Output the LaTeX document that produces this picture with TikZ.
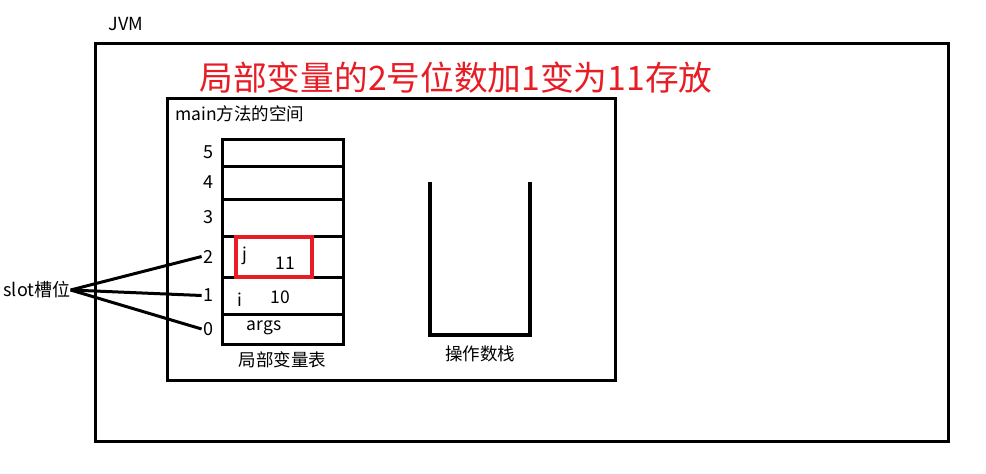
\documentclass[tikz,border=0pt]{standalone}
\usepackage{fontspec}
\setmainfont{Noto Sans CJK SC}
\usetikzlibrary{positioning}
\definecolor{markred}{RGB}{232,28,36}

\begin{document}
\begin{tikzpicture}[
  x=1pt, y=-1pt,
  txt/.style={inner sep=0pt, font=\fontsize{17.5}{19}\selectfont},
  num/.style={inner sep=2pt, font=\fontsize{18}{19}\selectfont},
  frame/.style={draw, line width=3pt, inner sep=0pt, outer sep=0pt},
  cell/.style={frame, minimum width=121pt},
  link/.style={line width=3pt}
]
  \useasboundingbox (0,0) rectangle (986,474);

  \node[frame, minimum width=853pt, minimum height=398pt] (jvm) at (521.5,242) {};
  \node[txt, font=\fontsize{18}{19}\selectfont] (jvmlabel) at (126,24) {JVM};
  \node[inner sep=0pt, text=markred, font=\fontsize{33.7}{36}\selectfont] (title) at (456,78) {局部变量的2号位数加1变为11存放};

  \node[frame, minimum width=448pt, minimum height=282pt] (main) at (391,239) {};
  \node[txt, anchor=west] (mainlabel) at (175,114) {main方法的空间};

  % local variable table, slot 0 at the bottom
  \node[cell, minimum height=30pt] (r0) at (282.5,329) {};
  \node[cell, minimum height=37pt, above=0pt of r0] (r1) {};
  \node[cell, minimum height=41pt, above=0pt of r1] (r2) {};
  \node[cell, minimum height=37pt, above=0pt of r2] (r3) {};
  \node[cell, minimum height=33pt, above=0pt of r3] (r4) {};
  \node[cell, minimum height=27pt, above=0pt of r4] (r5) {};

  \node[num, left=6pt of r0] (n0) {0};
  \node[num, left=6pt of r1] (n1) {1};
  \node[num, left=6pt of r2] (n2) {2};
  \node[num, left=6pt of r3] (n3) {3};
  \node[num, left=6pt of r4] (n4) {4};
  \node[num, left=6pt of r5] (n5) {5};

  \node[draw=markred, line width=3.5pt, inner sep=0pt, minimum width=76pt, minimum height=40pt] (hit) at (274,257) {};
  \node[txt] (vj) at (245,256) {j};
  \node[txt] (v11) at (285,263) {11};
  \node[txt] (vi) at (240,300) {i};
  \node[txt] (v10) at (280,297) {10};
  \node[txt] (vargs) at (264,328) {args};
  \node[txt, below=7pt of r0] (tablelabel) {局部变量表};

  % operand stack
  \node[inner sep=0pt, outer sep=0pt, minimum width=100pt, minimum height=153pt] (stack) at (480,258.5) {};
  \draw[line width=4pt] (stack.north west) -- (stack.south west) -- (stack.south east) -- (stack.north east);
  \node[txt, below=11pt of stack] (stacklabel) {操作数栈};

  \node[txt, font=\fontsize{18}{19}\selectfont] (slot) at (37,290) {slot槽位};
  \draw[link] (slot.east) -- (n2.west);
  \draw[link] (slot.east) -- (n1.west);
  \draw[link] (slot.east) -- (n0.west);
\end{tikzpicture}
\end{document}
